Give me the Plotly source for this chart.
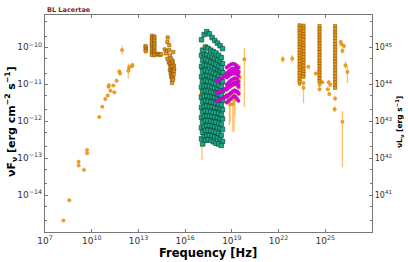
import numpy as np
import plotly.graph_objects as go

# ---------------- data (log10 values) ----------------
# archival radio -> IR points: log nu, log nuFnu, err up, err down (dex)
RAD_NU = [8.18, 8.56, 9.16, 9.16, 9.50, 9.70, 9.70, 10.49, 10.68, 10.87, 11.03, 11.08, 11.10,
          11.20, 11.39, 11.45, 11.60, 11.77, 11.82, 11.95, 12.35, 12.40, 12.59, 12.62]
RAD_F = [-14.69, -14.14, -13.10, -13.20, -13.32, -12.78, -12.87, -11.89, -11.61, -11.40, -11.31,
         -11.07, -11.03, -11.18, -11.04, -11.22, -10.91, -10.66, -10.71, -10.08, -10.64, -10.55,
         -10.51, -10.48]
RAD_EU = [0, 0, 0, 0, 0, 0, 0, 0, 0, 0, 0, 0, 0, 0, 0, 0, 0, 0.05, 0.05, 0.12, 0.20, 0.08, 0.05, 0]
RAD_ED = [0, 0, 0, 0, 0, 0, 0, 0, 0, 0, 0, 0, 0, 0, 0, 0, 0, 0.05, 0.05, 0.12, 0.20, 0.08, 0.05, 0]

# orange points in the X-ray band
XO_NU = [17.02, 17.05, 17.00, 17.08, 17.28, 17.34, 18.18, 18.62, 18.84, 18.88, 19.06, 19.14,
         19.20, 19.52, 19.80]
XO_F = [-10.55, -10.95, -11.30, -11.70, -11.90, -9.97, -12.00, -11.32, -11.43, -11.55, -11.54,
        -11.30, -11.43, -10.82, -10.33]
XO_EU = [0.08, 0.10, 0.15, 0.30, 0.30, 0.04, 0.25, 0.18, 0.19, 0.21, 0.20, 0.68, 0.20, 0.33, 0.30]
XO_ED = [0.08, 0.10, 0.15, 1.35, 0.75, 0.04, 0.60, 0.18, 0.68, 0.50, 0.75, 0.99, 0.45, 0.56, 1.29]

# gamma-ray single points
GS_NU = [22.27, 22.88, 23.35, 23.60, 23.60, 23.91, 24.39, 24.63, 24.63, 24.81, 25.16, 25.26,
         25.32, 25.22, 25.63, 25.60, 26.10, 25.99, 26.05, 26.10, 26.20, 26.30, 26.42]
GS_F = [-10.33, -10.31, -11.00, -10.97, -11.10, -10.53, -10.71, -11.02, -11.14, -10.95, -11.14,
        -11.27, -11.02, -10.95, -11.39, -11.68, -12.02, -9.86, -9.92, -10.10, -9.97, -10.49, -10.67]
GS_EU = [0.09, 0.10, 0.05, 0.06, 0.08, 0.05, 0.04, 0.05, 0.05, 0.04, 0.04, 0.04, 0.05, 0.06,
         0.06, 0.08, 0.29, 0.05, 0.04, 0.08, 0.05, 0.10, 0.15]
GS_ED = [0.09, 0.10, 0.05, 0.06, 0.42, 0.05, 0.04, 0.05, 0.05, 0.04, 0.04, 0.04, 0.05, 0.06,
         0.06, 0.08, 1.22, 0.05, 0.04, 0.08, 0.05, 0.10, 0.30]

# dense monitoring columns (IR, optical, gamma)
IRC_NU = [13.45, 13.47, 13.48, 13.46, 13.47,
          13.87, 13.88, 13.86, 13.87, 13.88, 13.86, 13.87, 13.88, 13.87, 13.86, 13.88, 13.87, 13.86,
          14.02, 14.03, 14.01, 14.02, 14.03, 14.02, 14.01, 14.03, 14.02, 14.01, 14.02, 14.03, 14.02,
          14.18, 14.25, 14.32, 14.40, 14.47]
IRC_F = [-9.97, -10.01, -10.05, -10.08, -10.11,
         -9.69, -9.74, -9.78, -9.83, -9.88, -9.92, -9.97, -10.01, -10.05, -10.10, -10.14, -10.18, -10.21,
         -9.71, -9.75, -9.80, -9.84, -9.89, -9.93, -9.98, -10.02, -10.07, -10.11, -10.15, -10.19, -10.22,
         -10.18, -10.20, -10.19, -10.21, -10.19]
OPT_NU = [14.88, 14.86, 14.98, 14.69, 14.82, 14.98, 15.24, 14.77, 15.03, 14.86, 15.11, 15.20,
          14.94, 15.00, 15.08, 15.15, 15.22, 15.28, 15.05, 15.12, 15.18, 15.25, 15.30, 15.02,
          15.10, 15.16, 15.22, 15.27, 15.07, 15.14, 15.20, 15.26, 15.10, 15.17, 15.23, 15.16,
          15.21, 15.16]
OPT_F = [-9.74, -9.86, -9.95, -10.06, -10.10, -10.08, -10.13, -10.17, -10.22, -10.31, -10.31,
         -10.37, -10.40, -10.45, -10.44, -10.42, -10.47, -10.50, -10.53, -10.55, -10.52, -10.58,
         -10.60, -10.62, -10.64, -10.66, -10.68, -10.65, -10.71, -10.73, -10.76, -10.74, -10.80,
         -10.82, -10.85, -10.90, -10.88, -10.97]
G1_NU, G1_F = 23.35, [-9.41, -9.48, -9.56, -9.62, -9.70, -9.77, -9.86, -9.93, -10.00, -10.08, -10.16,
                      -10.23, -10.31, -10.38, -10.47, -10.54, -10.62, -10.70, -10.78, -10.86, -10.93]
G2_NU, G2_F = 23.60, [-9.42, -9.50, -9.57, -9.66, -9.73, -9.80, -9.89, -9.96, -10.03, -10.12, -10.19,
                      -10.27, -10.35, -10.42, -10.50, -10.59, -10.66, -10.73, -10.80]
G3_NU, G3_F = 24.63, [-9.43, -9.51, -9.58, -9.67, -9.74, -9.82, -9.90, -9.97, -10.06, -10.13, -10.21,
                      -10.28, -10.37, -10.44, -10.52, -10.61, -10.68, -10.76, -10.84, -10.92]
G4_NU, G4_F = 25.63, [-9.43, -9.51, -9.60, -9.67, -9.75, -9.83, -9.92, -9.99, -10.07, -10.15, -10.24,
                      -10.31, -10.39, -10.47, -10.56, -10.63, -10.71, -10.79, -10.88, -10.95, -11.03, -11.10]

# teal X-ray spectra (two interleaved frequency grids)
TEAL_NU_A = [17.05, 17.22, 17.39, 17.56, 17.73, 17.90, 18.07, 18.24, 18.40]
TEAL_NU_B = [17.12, 17.30, 17.47, 17.64, 17.81, 17.98, 18.15, 18.32]
TEAL_F_A = [
    [-9.80, -9.66, -9.58, -9.64, -9.74, -9.82, -9.89, -9.96, -10.04],
    [-10.22, -10.18, -10.20, -10.24, -10.27, -10.31, -10.35, -10.40, -10.45],
    [-10.52, -10.48, -10.49, -10.50, -10.53, -10.57, -10.60, -10.63, -10.68],
    [-10.80, -10.78, -10.76, -10.78, -10.81, -10.83, -10.86, -10.90, -10.93],
    [-11.08, -11.05, -11.04, -11.05, -11.07, -11.10, -11.12, -11.15, -11.18],
    [-11.36, -11.33, -11.31, -11.33, -11.34, -11.36, -11.38, -11.41, -11.44],
    [-11.63, -11.60, -11.59, -11.60, -11.61, -11.63, -11.64, -11.66, -11.69],
    [-11.90, -11.88, -11.86, -11.86, -11.87, -11.89, -11.90, -11.92, -11.94],
    [-12.18, -12.14, -12.12, -12.12, -12.13, -12.15, -12.16, -12.19, -12.22],
    [-12.48, -12.42, -12.39, -12.38, -12.39, -12.42, -12.45, -12.48, -12.55],
]
TEAL_F_B = [
    [-10.08, -10.00, -10.03, -10.08, -10.12, -10.16, -10.22, -10.28],
    [-10.36, -10.33, -10.36, -10.40, -10.43, -10.47, -10.52, -10.56],
    [-10.65, -10.62, -10.65, -10.67, -10.70, -10.73, -10.77, -10.80],
    [-10.93, -10.90, -10.92, -10.94, -10.97, -10.99, -11.03, -11.06],
    [-11.20, -11.18, -11.19, -11.21, -11.23, -11.25, -11.28, -11.31],
    [-11.48, -11.45, -11.46, -11.48, -11.49, -11.51, -11.54, -11.56],
    [-11.75, -11.72, -11.73, -11.74, -11.76, -11.77, -11.79, -11.82],
    [-12.03, -11.99, -11.99, -12.00, -12.02, -12.03, -12.05, -12.08],
    [-12.30, -12.25, -12.25, -12.26, -12.28, -12.30, -12.33, -12.38],
    [-12.62, -12.52, -12.50, -12.52, -12.56, -12.60, -12.62, -12.66],
]

# magenta hard X-ray spectra
MAG_NU_FULL = [18.02, 18.15, 18.28, 18.41, 18.54, 18.67, 18.80, 18.93, 19.06, 19.19, 19.32, 19.42]
MAG_F_FULL = [
    [-10.92, -10.89, -10.86, -10.83, -10.79, -10.75, -10.71, -10.66, -10.62, -10.60, -10.62, -10.68],
    [-11.25, -11.22, -11.20, -11.17, -11.13, -11.10, -11.06, -11.02, -10.98, -10.95, -10.97, -11.02],
    [-11.46, -11.43, -11.41, -11.38, -11.35, -11.31, -11.28, -11.24, -11.20, -11.17, -11.20, -11.25],
]
MAG_NU_HI = [18.67, 18.80, 18.93, 19.06, 19.19, 19.32, 19.42]
MAG_F_HI = [
    [-10.55, -10.50, -10.47, -10.45, -10.46, -10.50, -10.55],
    [-10.70, -10.65, -10.60, -10.58, -10.57, -10.60, -10.66],
    [-10.82, -10.78, -10.74, -10.72, -10.70, -10.73, -10.78],
    [-11.00, -10.95, -10.90, -10.86, -10.84, -10.86, -10.92],
    [-11.15, -11.10, -11.06, -11.02, -11.00, -11.02, -11.08],
    [-11.35, -11.30, -11.25, -11.20, -11.18, -11.20, -11.26],
    [-11.50, -11.45, -11.40, -11.35, -11.33, -11.38, -11.45],
]

X_TICKS = [7, 10, 13, 16, 19, 22, 25]
Y_TICKS = [-14, -13, -12, -11, -10]
Y2_TICKS = [41, 42, 43, 44, 45]
LUM_OFFSET = 55  # log10(4 pi d^2) for nuL_nu axis

# ---------------- helpers ----------------
def lin(v):
    return 10.0 ** np.asarray(v, dtype=float)

def errs(f, eu, ed):
    f = np.asarray(f, float)
    return lin(f + np.asarray(eu)) - lin(f), lin(f) - lin(f - np.asarray(ed))

ORANGE = "#f5a01e"
ERRC = "rgba(255,180,80,0.85)"

fig = go.Figure()

def add_err_points(nu, f, eu, ed):
    up, dn = errs(f, eu, ed)
    fig.add_trace(go.Scatter(
        x=lin(nu), y=lin(f), mode="markers",
        marker=dict(size=3.5, color=ORANGE, line=dict(width=0.3, color="#b86e00")),
        error_y=dict(type="data", symmetric=False, array=up, arrayminus=dn,
                     color=ERRC, thickness=1.3, width=0),
        showlegend=False, hoverinfo="skip"))

add_err_points(RAD_NU, RAD_F, RAD_EU, RAD_ED)
add_err_points(XO_NU, XO_F, XO_EU, XO_ED)
add_err_points(GS_NU, GS_F, GS_EU, GS_ED)

COL_STYLE = dict(size=3.3, symbol="square", color="#ea9612", line=dict(width=0.5, color="#7a4c08"))

col_nu = list(IRC_NU) + list(OPT_NU)
col_f = list(IRC_F) + list(OPT_F)
for cnu, cf in [(G1_NU, G1_F), (G2_NU, G2_F), (G3_NU, G3_F), (G4_NU, G4_F)]:
    col_nu += [cnu] * len(cf)
    col_f += list(cf)
fig.add_trace(go.Scatter(x=lin(col_nu), y=lin(col_f), mode="markers", marker=COL_STYLE,
                         showlegend=False, hoverinfo="skip"))

# teal spectra
tx, ty = [], []
for spec in TEAL_F_A:
    tx += TEAL_NU_A
    ty += spec
for spec in TEAL_F_B:
    tx += TEAL_NU_B
    ty += spec
fig.add_trace(go.Scatter(x=lin(tx), y=lin(ty), mode="markers",
                         marker=dict(size=4.5, symbol="square", color="#17a885",
                                     line=dict(width=0.6, color="#083d30")),
                         showlegend=False, hoverinfo="skip"))

# magenta spectra
mx, my = [], []
for spec in MAG_F_FULL:
    mx += MAG_NU_FULL
    my += spec
for spec in MAG_F_HI:
    mx += MAG_NU_HI
    my += spec
fig.add_trace(go.Scatter(x=lin(mx), y=lin(my), mode="markers",
                         marker=dict(size=3.5, color="#e000e0", line=dict(width=0.4, color="#a000a0")),
                         showlegend=False, hoverinfo="skip"))

# dummy trace to activate the luminosity axis
fig.add_trace(go.Scatter(x=[], y=[], yaxis="y2", showlegend=False, hoverinfo="skip"))

def sup_labels(vals):
    return ["10<sup>%s</sup>" % (str(v).replace("-", "\u2212")) for v in vals]

AX = "#777777"
TF = dict(family="DejaVu Sans", size=9, color="#333333")
YR = [-15, -9.13]

W, H = 408, 262
pl, pr, pt, pb = 45, 372, 15, 232

fig.update_layout(
    width=W, height=H,
    margin=dict(l=pl, r=W - pr, t=pt, b=H - pb, autoexpand=False),
    paper_bgcolor="white", plot_bgcolor="white",
    font=dict(family="DejaVu Sans"),
    xaxis=dict(type="log", range=[7, 28], tickvals=lin(X_TICKS), ticktext=sup_labels(X_TICKS),
               ticks="inside", ticklen=3, tickcolor=AX, showline=True, linecolor=AX, linewidth=1.2,
               mirror="ticks", showgrid=False, zeroline=False, tickfont=TF),
    yaxis=dict(type="log", range=YR, tickvals=lin(Y_TICKS), ticktext=sup_labels(Y_TICKS),
               ticks="inside", ticklen=3, tickcolor=AX, showline=True, linecolor=AX, linewidth=1.2,
               showgrid=False, zeroline=False, tickfont=TF,
               minor=dict(ticks="inside", ticklen=2, tickcolor=AX, showgrid=False)),
    yaxis2=dict(type="log", overlaying="y", side="right",
                range=[YR[0] + LUM_OFFSET, YR[1] + LUM_OFFSET],
                tickvals=lin(Y2_TICKS), ticktext=sup_labels(Y2_TICKS),
                ticks="inside", ticklen=3, tickcolor=AX, showline=True, linecolor=AX, linewidth=1.2,
                showgrid=False, zeroline=False,
                tickfont=dict(family="DejaVu Sans", size=8, color="#333333"),
                minor=dict(ticks="inside", ticklen=2, tickcolor=AX, showgrid=False)),
)

def px(x):
    return (x - pl) / (pr - pl)
def py(y):
    return (pb - y) / (pb - pt)

fig.add_annotation(text="<b>BL Lacertae</b>", x=px(45), y=py(10), xref="paper", yref="paper",
                   xanchor="left", yanchor="middle", showarrow=False,
                   font=dict(size=6.5, color="#8b1a1a", family="DejaVu Sans"))
fig.add_annotation(text="<b>\u03bdF<sub>\u03bd</sub> [erg cm<sup>\u22122</sup> s<sup>\u22121</sup>]</b>",
                   x=px(11), y=py(122), xref="paper", yref="paper", textangle=-90,
                   xanchor="center", yanchor="middle", showarrow=False,
                   font=dict(size=11, color="black", family="DejaVu Sans"))
fig.add_annotation(text="<b>\u03bdL<sub>\u03bd</sub> [erg s<sup>\u22121</sup>]</b>",
                   x=px(399), y=py(122), xref="paper", yref="paper", textangle=-90,
                   xanchor="center", yanchor="middle", showarrow=False,
                   font=dict(size=7.5, color="black", family="DejaVu Sans"))
fig.add_annotation(text="<b>Frequency [Hz]</b>", x=px(208), y=py(252.5), xref="paper", yref="paper",
                   xanchor="center", yanchor="middle", showarrow=False,
                   font=dict(size=11.5, color="black", family="DejaVu Sans"))

fig.write_html("out.html", config={"displayModeBar": False},
               post_script="document.body.style.margin='0';")
